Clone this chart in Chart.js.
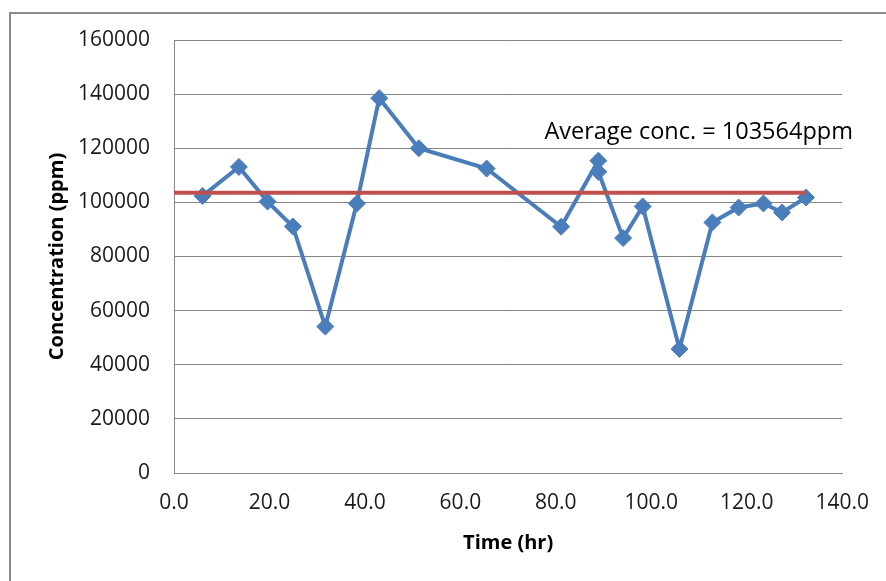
<!DOCTYPE html>
<html>
<head>
<meta charset="utf-8">
<title>Concentration vs Time</title>
<script src="https://cdn.jsdelivr.net/npm/chart.js@4.4.1/dist/chart.umd.min.js"></script>
<style>
    html, body { margin: 0; padding: 0; background: #fff; overflow: hidden; }
    #frame {
        position: absolute; left: 9px; top: 12px; width: 1000px; height: 1000px;
        border: 2px solid #8c8c8c;
    }
    #chart { position: absolute; left: 0; top: 0; }
</style>
</head>
<body>
<div id="frame"></div>
<canvas id="chart" width="886" height="581"></canvas>
<script>
// sample times (hr) and measured concentration (ppm)
var times = [6.0, 13.6, 19.6, 24.9, 31.7, 38.3, 43.0, 51.3, 65.5, 81.1, 88.9, 88.9, 94.1, 98.2, 105.9, 112.8, 118.3, 123.5, 127.4, 132.4];
var concentration = [102400, 113100, 100300, 91100, 54100, 99600, 138500, 120000, 112500, 91000, 115400, 111300, 86800, 98500, 45800, 92600, 98100, 99600, 96300, 101800];

// average line
var averageValue = 103564;
var averageTimes = [0, 132.4];
var averageLabel = 'Average conc. = 103564ppm';
var averageLabelAt = [77.6, 123400];

var fontFamily = '"Open Sans", "Liberation Sans", sans-serif';

var conc = times.map(function (t, i) {
    return { x: t, y: concentration[i] };
});
var avg = averageTimes.map(function (t) {
    return { x: t, y: averageValue };
});

// draws the average text label in data coordinates
var averageText = {
    id: 'averageText',
    afterDatasetsDraw: function (chart) {
        var ctx = chart.ctx;
        ctx.save();
        ctx.font = '23.5px ' + fontFamily;
        ctx.fillStyle = '#000';
        ctx.textAlign = 'left';
        ctx.textBaseline = 'alphabetic';
        ctx.fillText(averageLabel,
            chart.scales.x.getPixelForValue(averageLabelAt[0]),
            chart.scales.y.getPixelForValue(averageLabelAt[1]));
        ctx.restore();
    }
};

var chart = new Chart(document.getElementById('chart'), {
    type: 'scatter',
    data: {
        datasets: [{
            // average first so it sits on top
            data: avg,
            showLine: true,
            borderColor: '#C0504D',
            borderWidth: 4,
            pointRadius: 0,
            tension: 0
        }, {
            data: conc,
            showLine: true,
            borderColor: '#4A7EBB',
            backgroundColor: '#4A7EBB',
            borderWidth: 4,
            pointStyle: 'rectRot',
            pointRadius: 8.5,
            pointBorderWidth: 1,
            tension: 0
        }]
    },
    options: {
        responsive: false,
        animation: false,
        layout: { padding: { left: 0, top: 40, right: 43, bottom: 0 } },
        plugins: {
            legend: { display: false },
            tooltip: { enabled: false }
        },
        scales: {
            x: {
                type: 'linear',
                min: 0,
                max: 140,
                afterFit: function (scale) { scale.height = 108; },
                grid: { display: true, color: 'rgba(0,0,0,0)', drawTicks: false },
                border: { display: true, color: '#868686', width: 1 },
                ticks: {
                    stepSize: 20,
                    padding: 17,
                    color: '#1a1a1a',
                    font: { family: fontFamily, size: 21 },
                    callback: function (v) { return v.toFixed(1); }
                },
                title: {
                    display: true,
                    text: 'Time (hr)',
                    color: '#000',
                    font: { family: fontFamily, size: 20, weight: 'bold' },
                    padding: { top: 0, bottom: 26 }
                }
            },
            y: {
                min: 0,
                max: 160000,
                afterFit: function (scale) { scale.width = 174; },
                grid: { color: '#868686', lineWidth: 1, drawTicks: false },
                border: { display: true, color: '#868686', width: 1 },
                ticks: {
                    stepSize: 20000,
                    padding: 24,
                    color: '#1a1a1a',
                    font: { family: fontFamily, size: 21 },
                    callback: function (v) { return String(v); }
                },
                title: {
                    display: true,
                    text: 'Concentration (ppm)',
                    color: '#000',
                    font: { family: fontFamily, size: 20, weight: 'bold' },
                    padding: { top: 45, bottom: 0 }
                }
            }
        }
    },
    plugins: [averageText]
});
</script>
</body>
</html>
